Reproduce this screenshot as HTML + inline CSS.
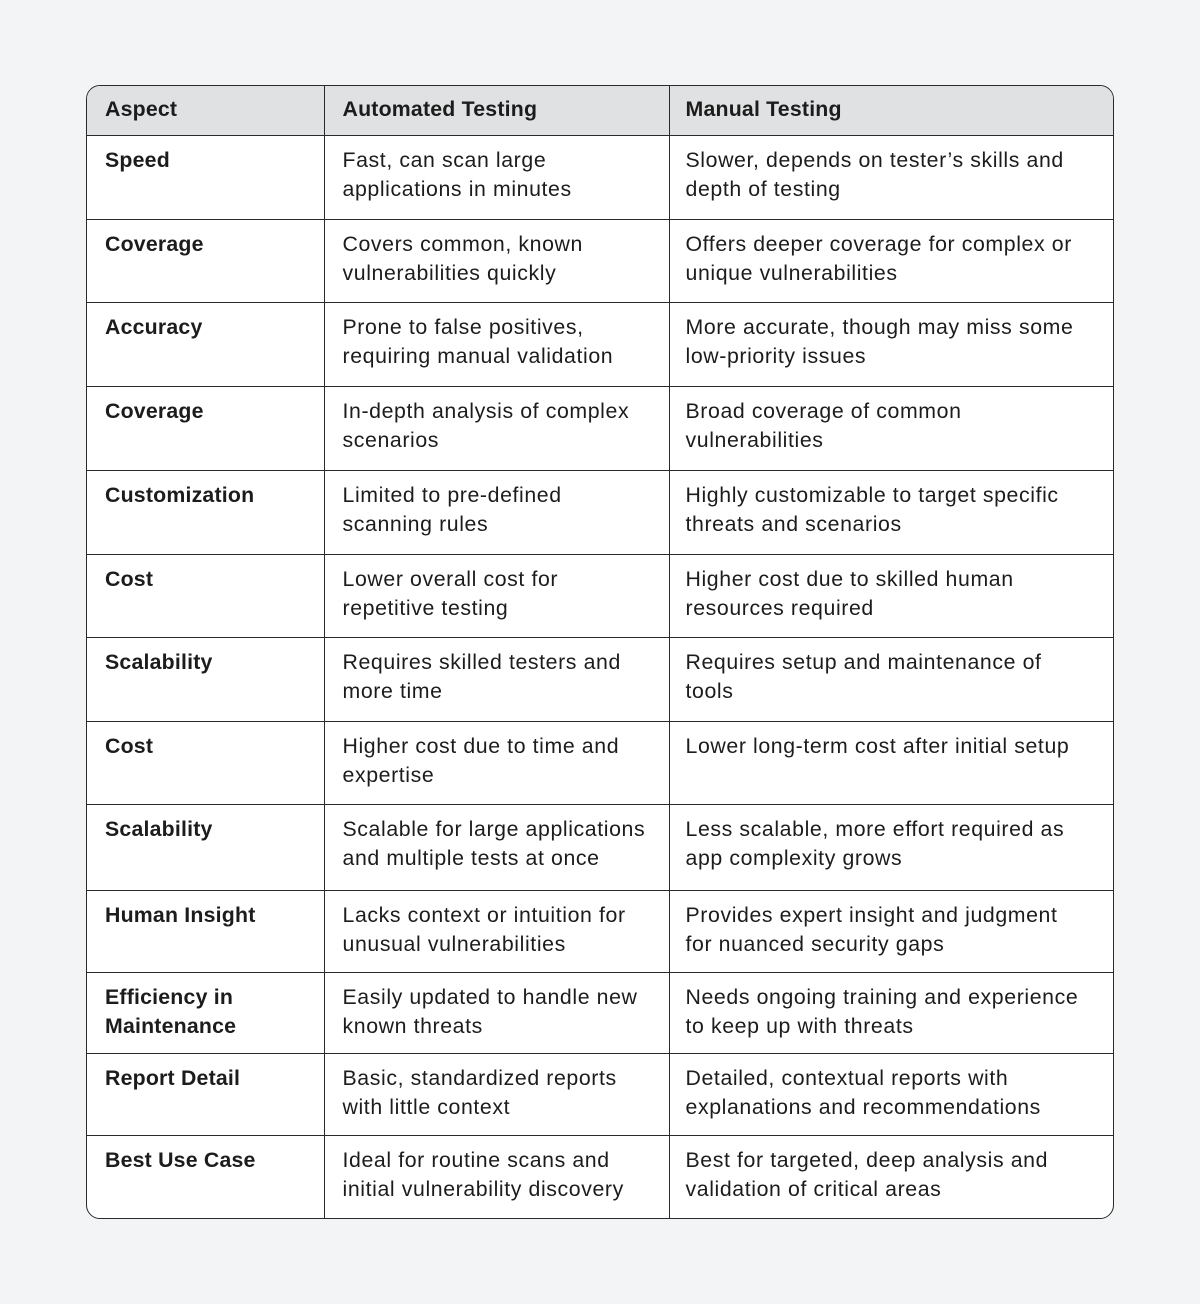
<!DOCTYPE html>
<html><head><style>
body{margin:0;background:#f3f4f5;width:1200px;height:1304px;position:relative;font-family:"Liberation Sans",sans-serif;}
.t{position:absolute;left:86px;top:85px;width:1028px;height:1134px;border:1px solid #2a2a2a;border-radius:14px;overflow:hidden;background:#fff;box-sizing:border-box}
table{border-collapse:collapse;width:100%;table-layout:fixed}
td{vertical-align:top;padding:10px 4px 0 18px;font-size:21.3px;line-height:29px;letter-spacing:0.6px;color:#1c1c1c;border-right:1px solid #2a2a2a;border-bottom:1px solid #2a2a2a;box-sizing:border-box;white-space:nowrap;overflow:hidden}
td:first-child{letter-spacing:0.2px}
td:last-child{border-right:none;padding-left:16px}
tr:last-child td{border-bottom:none}
td:first-child{font-weight:bold}
tr.h td{background:#dfe1e3;font-weight:bold;padding-top:9px;letter-spacing:0.2px}
</style></head><body>
<div class="t"><table>
<colgroup><col style="width:237px"><col style="width:345px"><col></colgroup>
<tr class="h" style="height:49px"><td>Aspect</td><td>Automated Testing</td><td>Manual Testing</td></tr>
<tr style="height:84px"><td>Speed</td><td>Fast, can scan large<br>applications in minutes</td><td>Slower, depends on tester’s skills and<br>depth of testing</td></tr>
<tr style="height:83px"><td>Coverage</td><td>Covers common, known<br>vulnerabilities quickly</td><td>Offers deeper coverage for complex or<br>unique vulnerabilities</td></tr>
<tr style="height:84px"><td>Accuracy</td><td>Prone to false positives,<br>requiring manual validation</td><td>More accurate, though may miss some<br>low-priority issues</td></tr>
<tr style="height:84px"><td>Coverage</td><td>In-depth analysis of complex<br>scenarios</td><td>Broad coverage of common<br>vulnerabilities</td></tr>
<tr style="height:84px"><td>Customization</td><td>Limited to pre-defined<br>scanning rules</td><td>Highly customizable to target specific<br>threats and scenarios</td></tr>
<tr style="height:83px"><td>Cost</td><td>Lower overall cost for<br>repetitive testing</td><td>Higher cost due to skilled human<br>resources required</td></tr>
<tr style="height:84px"><td>Scalability</td><td>Requires skilled testers and<br>more time</td><td>Requires setup and maintenance of<br>tools</td></tr>
<tr style="height:83px"><td>Cost</td><td>Higher cost due to time and<br>expertise</td><td>Lower long-term cost after initial setup</td></tr>
<tr style="height:86px"><td>Scalability</td><td>Scalable for large applications<br>and multiple tests at once</td><td>Less scalable, more effort required as<br>app complexity grows</td></tr>
<tr style="height:82px"><td>Human Insight</td><td>Lacks context or intuition for<br>unusual vulnerabilities</td><td>Provides expert insight and judgment<br>for nuanced security gaps</td></tr>
<tr style="height:81px"><td>Efficiency in<br>Maintenance</td><td>Easily updated to handle new<br>known threats</td><td>Needs ongoing training and experience<br>to keep up with threats</td></tr>
<tr style="height:82px"><td>Report Detail</td><td>Basic, standardized reports<br>with little context</td><td>Detailed, contextual reports with<br>explanations and recommendations</td></tr>
<tr style="height:84px"><td>Best Use Case</td><td>Ideal for routine scans and<br>initial vulnerability discovery</td><td>Best for targeted, deep analysis and<br>validation of critical areas</td></tr>
</table></div>
</body></html>
